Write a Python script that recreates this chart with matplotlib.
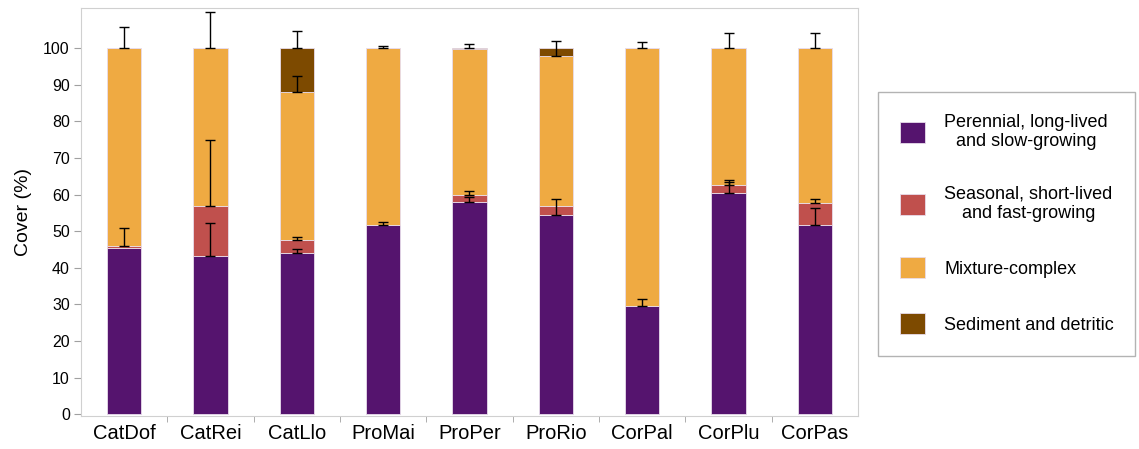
import matplotlib
matplotlib.use("Agg")
import matplotlib.pyplot as plt
import numpy as np

plt.rcParams['font.family'] = ['Liberation Sans', 'DejaVu Sans']

sites = ["CatDof", "CatRei", "CatLlo", "ProMai", "ProPer", "ProRio", "CorPal", "CorPlu", "CorPas"]

# mean cover (%) per functional group
perennial = [45.5, 43.1, 44.1, 51.8, 57.9, 54.4, 29.7, 60.5, 51.6]
seasonal = [0.5, 13.7, 3.6, 0.0, 2.1, 2.6, 0.0, 2.1, 6.1]
mixture = [54.0, 43.2, 40.3, 48.2, 39.7, 40.9, 70.3, 37.4, 42.3]
sediment = [0.0, 0.0, 12.0, 0.0, 0.3, 2.1, 0.0, 0.0, 0.0]

# upper error (SD) of each group, drawn from the top of its segment
perennial_err = [0.0, 9.2, 1.0, 0.6, 1.4, 4.3, 1.9, 2.9, 4.8]
seasonal_err = [4.9, 18.1, 0.6, 0.0, 0.9, 0.0, 0.0, 1.3, 1.2]
mixture_err = [5.8, 9.8, 4.3, 0.5, 0.0, 4.0, 1.8, 4.2, 4.3]
sediment_err = [0.0, 0.0, 4.6, 0.0, 1.3, 0.0, 0.0, 0.0, 0.0]

labels = ["Perennial, long-lived\nand slow-growing",
          "Seasonal, short-lived\nand fast-growing",
          "Mixture-complex",
          "Sediment and detritic"]
colors = ["#55146E", "#C0504D", "#EFAA42", "#7D4A00"]

groups = [perennial, seasonal, mixture, sediment]
errors = [perennial_err, seasonal_err, mixture_err, sediment_err]

fig = plt.figure(figsize=(11.39, 4.49), dpi=100)
ax = fig.add_axes([0.0711, 0.0735, 0.6822, 0.9085])

x = np.arange(len(sites))
width = 0.4
bottom = np.zeros(len(sites))
handles = []
for vals, err, col, lab in zip(groups, errors, colors, labels):
    vals = np.array(vals)
    h = ax.bar(x, vals, width, bottom=bottom, color=col, edgecolor="#E8DCEB",
               linewidth=0.6, label=lab)
    handles.append(h)
    top = bottom + vals
    err = np.array(err)
    m = err > 0
    ax.errorbar(x[m], top[m], yerr=[np.zeros(m.sum()), err[m]], fmt="none",
                ecolor="black", elinewidth=1, capsize=3.5, capthick=1, zorder=3)
    bottom = top

ax.set_xlim(-0.5, len(sites) - 0.5)
ax.set_ylim(-0.5, 111)
ax.set_yticks(np.arange(0, 101, 10))
ax.set_xticks(x)
ax.set_xticklabels(sites, fontsize=14.5)
ax.set_xticks(np.arange(0.5, len(sites) - 1, 1), minor=True)
ax.tick_params(axis="x", which="major", length=0, pad=6)
ax.tick_params(axis="x", which="minor", length=4, color="#A0A0A0", direction="out")
ax.tick_params(axis="y", length=5, color="#A0A0A0", labelsize=11.5, pad=3)
ax.set_ylabel("Cover (%)", fontsize=14, labelpad=8)
for s in ax.spines.values():
    s.set_color("#D0D0D0")

leg = fig.legend(handles=handles, labels=labels, loc="upper left",
                 bbox_to_anchor=(0.771, 0.795), fontsize=13, frameon=True,
                 fancybox=False, edgecolor="#A0A0A0", handlelength=1.4,
                 handleheight=1.4, handletextpad=1.05, labelspacing=1.95,
                 borderpad=1.2, borderaxespad=0)
leg.get_frame().set_linewidth(1)
for t in leg.get_texts():
    t.set_multialignment("center")

fig.savefig("out.png", dpi=100)
